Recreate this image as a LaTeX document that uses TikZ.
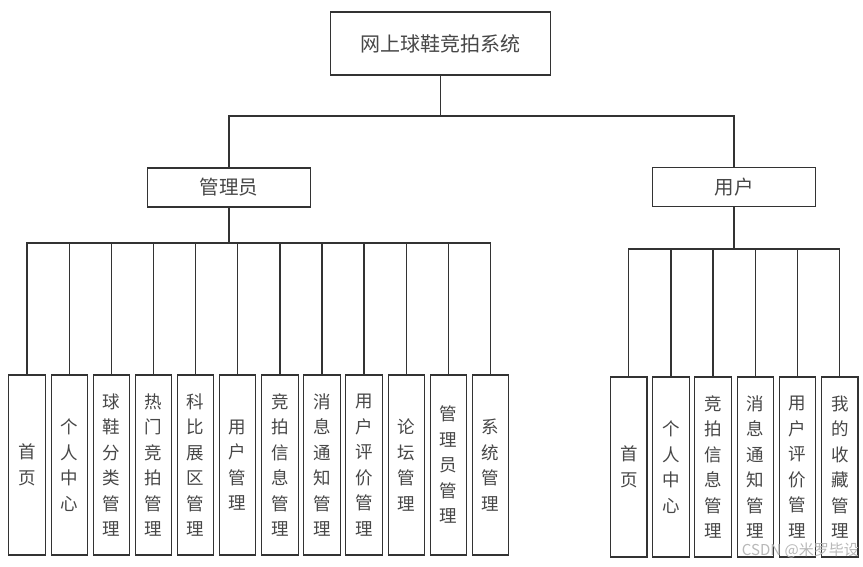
\documentclass[tikz,border=0pt]{standalone}
\usepackage{fontspec}
\newfontfamily\cjk{Noto Sans CJK SC}
\begin{document}
\begin{tikzpicture}[x=1pt,y=-1pt,
  box/.style={draw=black!80,line width=1.2pt,inner sep=0pt,text=black!72,font=\cjk\fontsize{19.5}{23}\selectfont},
  leaf/.style={box,minimum width=36.3pt,minimum height=180pt,align=center,font=\cjk\fontsize{17.5}{25.5}\selectfont},
  conn/.style={draw=black!80,line width=1.2pt}]
\useasboundingbox (0,0) rectangle (863,567);
\fill[white] (0,0) rectangle (863,567);
\node[box,minimum width=219.5pt,minimum height=63pt,font=\cjk\fontsize{20}{23}\selectfont] (root) at (440.5,43.5) {网上球鞋竞拍系统};
\node[box,minimum width=163.5pt,minimum height=39pt] (admin) at (229,187.5) {管理员};
\node[box,minimum width=162.3pt,minimum height=39pt] (user) at (734,187.2) {用户};
\coordinate (b1) at (0,116);
\coordinate (b2) at (0,243);
\coordinate (b3) at (0,249);
% admin leaves
\foreach \i/\x/\t in {1/27/{首\\页},2/69.3/{个\\人\\中\\心},3/111.5/{球\\鞋\\分\\类\\管\\理},4/153.5/{热\\门\\竞\\拍\\管\\理},5/195.5/{科\\比\\展\\区\\管\\理},6/237.7/{用\\户\\管\\理},7/280/{竞\\拍\\信\\息\\管\\理},8/322/{消\\息\\通\\知\\管\\理},9/364/{用\\户\\评\\价\\管\\理},10/406.3/{论\\坛\\管\\理},11/448.3/{管\\理\\员\\管\\理},12/490.7/{系\\统\\管\\理}}
  \node[leaf] (a\i) at (\x,465) {\t};
% user leaves
\foreach \i/\x/\t in {1/628.8/{首\\页},2/671/{个\\人\\中\\心},3/713/{竞\\拍\\信\\息\\管\\理},4/755.3/{消\\息\\通\\知\\管\\理},5/797.5/{用\\户\\评\\价\\管\\理},6/839.8/{我\\的\\收\\藏\\管\\理}}
  \node[leaf] (u\i) at (\x,467) {\t};
% connectors
\draw[conn] (root.south) -- (root.south|-b1) -| (admin.north);
\draw[conn] (root.south|-b1) -| (user.north);
\foreach \i in {1,...,12}
  \draw[conn] (admin.south) -- (admin.south|-b2) -| (a\i.north);
\foreach \i in {1,...,6}
  \draw[conn] (user.south) -- (user.south|-b3) -| (u\i.north);
\node[text=black!28,font=\cjk\fontsize{15}{16}\selectfont,anchor=east,inner sep=0pt] (wm) at (859,551) {CSDN @米罗毕设};
\end{tikzpicture}
\end{document}
